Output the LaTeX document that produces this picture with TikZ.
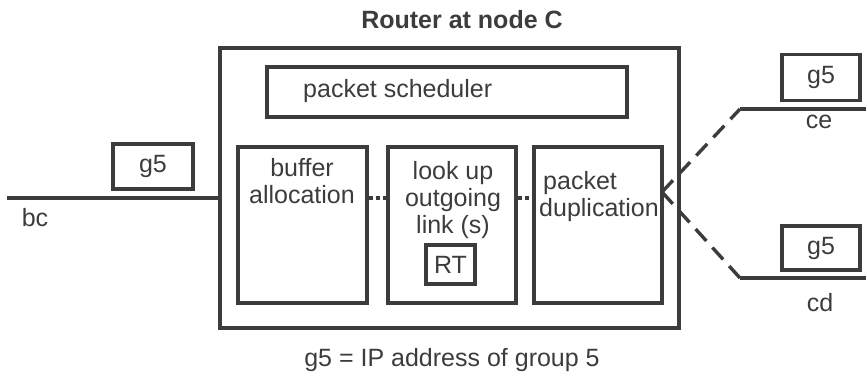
\documentclass[tikz,border=0pt]{standalone}
\usepackage{fontspec}
\setmainfont{Liberation Sans}
\usetikzlibrary{positioning}
\definecolor{ink}{RGB}{60,60,60}

\tikzset{
  unit/.style={draw=ink, line width=3.2pt, inner sep=0pt},
  wire/.style={draw=ink, line width=3.6pt},
  dotwire/.style={draw=ink, line width=3.6pt, dash pattern=on 4pt off 3pt},
  dashwire/.style={draw=ink, line width=3.4pt, dash pattern=on 16pt off 9pt},
  txt/.style={text=ink, inner sep=0pt, font=\fontsize{25}{27}\selectfont}
}

\begin{document}
\begin{tikzpicture}[x=1pt,y=1pt,yscale=-1,xscale=1]
\useasboundingbox (0,0) rectangle (866,380);

%Shape: Rectangle [router]
\node [unit, minimum width=459pt, minimum height=280pt] (router) at (449.5,188) {};
%Shape: Rectangle [scheduler]
\node [unit, minimum width=360pt, minimum height=50pt] (sched) at (447,92) {};
%Shape: Rectangle [buffer]
\node [unit, minimum width=129pt, minimum height=156pt] (buffer) at (302.5,225) {};
%Shape: Rectangle [lookup]
\node [unit, minimum width=128pt, minimum height=156pt] (lookup) at (452,225) {};
%Shape: Rectangle [duplication]
\node [unit, minimum width=128pt, minimum height=156pt] (dupl) at (598,225) {};
%Shape: Rectangle [routing table]
\node [unit, minimum width=49pt, minimum height=39pt, txt] (rt) at (450.5,264.5) {RT};
%Shape: Rectangle [address tags]
\node [unit, minimum width=80pt, minimum height=45pt, txt] (tagbc) at (153,166.5) {g5};
\node [unit, minimum width=78pt, minimum height=46pt, txt] (tagce) at (821,77.5) {g5};
\node [unit, minimum width=78pt, minimum height=44pt, txt] (tagcd) at (821,248) {g5};

%Coordinates for the links
\coordinate (bcstart) at (7,198);
\coordinate (fork) at (662,192);
\coordinate (ceturn) at (740,109);
\coordinate (ceend) at (866,109);
\coordinate (cdturn) at (740,278);
\coordinate (cdend) at (866,278);

%Straight Lines
\draw [wire] (bcstart) -- (bcstart -| router.west);
\draw [dotwire] (buffer.east |- bcstart) -- (lookup.west |- bcstart);
\draw [dotwire] (lookup.east |- bcstart) -- (dupl.west |- bcstart);
\draw [dashwire] (fork) -- (ceturn);
\draw [wire] (ceturn) -- (ceend);
\draw [dashwire] (fork) -- (cdturn);
\draw [wire] (cdturn) -- (cdend);

% Text Node
\node [txt, font=\fontsize{25}{27}\selectfont\bfseries] (title) at (462,20) {Router at node C};
% Text Node
\node [txt, anchor=west] (schedtxt) at (303,91) {packet scheduler};
% Text Node
\node [txt, align=center] (buffertxt) at (302,181) {buffer\\allocation};
% Text Node
\node [txt, align=center] (lookuptxt) at (453,200) {look up\\outgoing\\link (s)};
% Text Node
\node [txt, align=left, anchor=west] (dupltxt) at (539,197) {\hspace*{4pt}packet\\duplication};
% Text Node
\node [txt] (bctxt) at (35,218) {bc};
\node [txt] (cetxt) at (819,122) {ce};
\node [txt] (cdtxt) at (820,303) {cd};
% Text Node
\node [txt] (legend) at (452,360) {g5 = IP address of group 5};

\end{tikzpicture}
\end{document}
